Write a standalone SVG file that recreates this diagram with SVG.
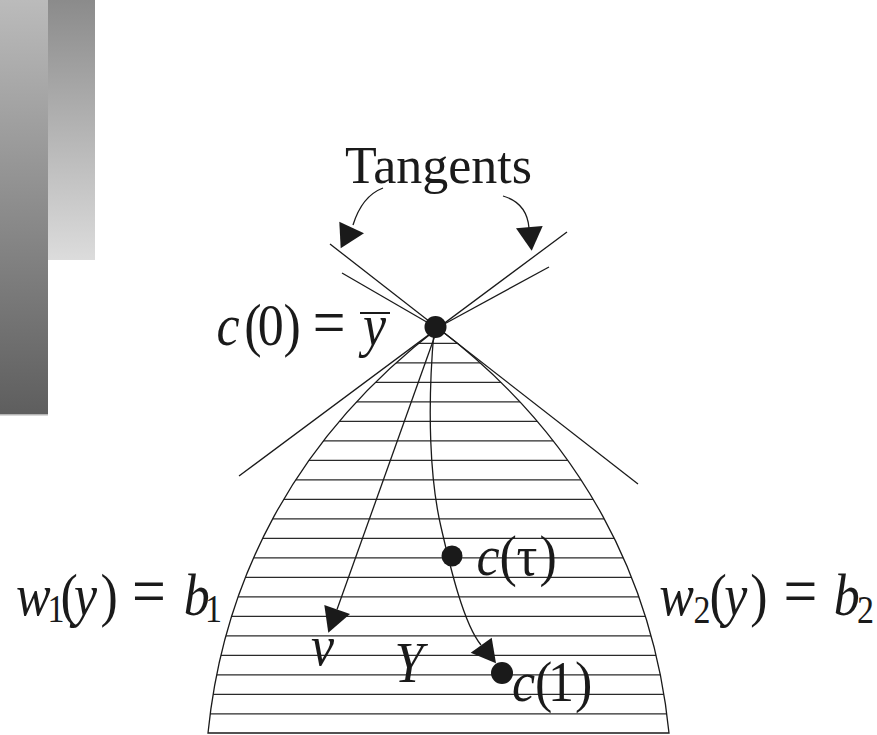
<svg xmlns="http://www.w3.org/2000/svg" width="877" height="735" viewBox="0 0 877 735">
<style>
.t{font-family:"Liberation Serif","Times New Roman",serif;font-size:52px;fill:#1a1a1a}
.i{font-style:italic}
.s{font-size:34px}
.ln{stroke:#1a1a1a;stroke-width:1.3;fill:none}
.h{stroke:#2a2a2a;stroke-width:1.3}
.fill{fill:#1a1a1a}
</style>
<defs>
<linearGradient id="g1" x1="0" y1="0" x2="0" y2="1"><stop offset="0" stop-color="#bbbbbb"/><stop offset="1" stop-color="#5e5e5e"/></linearGradient>
<linearGradient id="g2" x1="0" y1="0" x2="0" y2="1"><stop offset="0" stop-color="#8b8b8b"/><stop offset="1" stop-color="#dcdcdc"/></linearGradient>
<clipPath id="reg"><path d="M438,328 C293,439 223,583 208,733 L669,733 C654,583 584,439 438,328 Z"/></clipPath>
</defs>
<g id="bars">
<rect x="0" y="0" width="48" height="415" fill="url(#g1)"/>
<rect x="0" y="414" width="48" height="1.5" fill="#b4b4b4"/>
<rect x="48" y="0" width="47" height="260" fill="url(#g2)"/>
</g>
<g id="region">
<g clip-path="url(#reg)" class="h">
<line x1="200" x2="680" y1="343.3" y2="343.3"/>
<line x1="200" x2="680" y1="362.8" y2="362.8"/>
<line x1="200" x2="680" y1="382.3" y2="382.3"/>
<line x1="200" x2="680" y1="401.8" y2="401.8"/>
<line x1="200" x2="680" y1="421.3" y2="421.3"/>
<line x1="200" x2="680" y1="440.8" y2="440.8"/>
<line x1="200" x2="680" y1="460.3" y2="460.3"/>
<line x1="200" x2="680" y1="479.8" y2="479.8"/>
<line x1="200" x2="680" y1="499.3" y2="499.3"/>
<line x1="200" x2="680" y1="518.8" y2="518.8"/>
<line x1="200" x2="680" y1="538.3" y2="538.3"/>
<line x1="200" x2="680" y1="557.8" y2="557.8"/>
<line x1="200" x2="680" y1="577.3" y2="577.3"/>
<line x1="200" x2="680" y1="596.8" y2="596.8"/>
<line x1="200" x2="680" y1="616.3" y2="616.3"/>
<line x1="200" x2="680" y1="635.8" y2="635.8"/>
<line x1="200" x2="680" y1="655.3" y2="655.3"/>
<line x1="200" x2="680" y1="674.8" y2="674.8"/>
<line x1="200" x2="680" y1="694.3" y2="694.3"/>
<line x1="200" x2="680" y1="713.8" y2="713.8"/>
</g>
<path class="ln" d="M438,328 C293,439 223,583 208,733 L669,733 C654,583 584,439 438,328"/>
</g>
<g id="tangent-lines" class="ln">
<line x1="330" y1="244" x2="638" y2="484"/>
<line x1="239" y1="476" x2="567" y2="232"/>
<line x1="342" y1="273" x2="437" y2="328"/>
<line x1="549" y1="267" x2="437" y2="328"/>
</g>
<g id="connectors">
<path class="ln" d="M383,188 Q362,196 353,225"/>
<polygon class="fill" points="339.3,221.7 364,233.3 340.7,248.3"/>
<path class="ln" d="M503,196 Q527,203 529,228"/>
<polygon class="fill" points="516,228.3 542.7,226 531.7,250.7"/>
<line class="ln" x1="437" y1="330" x2="337" y2="609.5"/>
<polygon class="fill" points="328.3,632.7 324.3,605 350,614"/>
<path class="ln" d="M434,331 C427,410 430,480 441,527 C447.6,555 462,622 481,645"/>
<polygon class="fill" points="496,663.3 470.7,652.7 491.7,637.7"/>
</g>
<g id="tangents-label">
<text class="t" x="345" y="183" font-size="49" textLength="187" lengthAdjust="spacing">Tangents</text>
</g>
<g id="c0">
<circle class="fill" cx="435.5" cy="327" r="11"/>
<g transform="matrix(1 0 0 1.15 0 -51.75)">
<text class="t" y="345"><tspan class="i" x="216.4">c</tspan><tspan x="244.2">(</tspan><tspan x="257.8">0</tspan><tspan x="283.5">)</tspan><tspan x="312.8" font-size="58">=</tspan><tspan class="i" x="362.9">y</tspan></text>
</g>
<line x1="360" y1="313" x2="390" y2="313" stroke="#1a1a1a" stroke-width="2"/>
</g>
<g id="ctau">
<circle class="fill" cx="452" cy="556" r="10.5"/>
<g transform="matrix(1 0 0 1.1 0 -57.5)">
<text class="t" y="575"><tspan class="i" x="476.5">c</tspan><tspan x="499.5">(</tspan><tspan x="516.5">τ</tspan><tspan x="539.5">)</tspan></text>
</g>
</g>
<g id="c1">
<circle class="fill" cx="502" cy="673" r="11"/>
<g transform="matrix(1 0 0 1.1 0 -70.1)">
<text class="t" y="701"><tspan class="i" x="512">c</tspan><tspan x="535">(</tspan><tspan x="548">1</tspan><tspan x="575">)</tspan></text>
</g>
</g>
<g id="w1" transform="matrix(1 0 0 1.15 0 -92.25)">
<text class="t" y="615"><tspan class="i" x="15.9">w</tspan><tspan class="s" x="47.5" y="621">1</tspan><tspan x="60.5" y="615">(</tspan><tspan class="i" x="74">y</tspan><tspan x="100.5">)</tspan><tspan x="132.1" font-size="60">=</tspan><tspan class="i" x="183.8">b</tspan><tspan class="s" x="205" y="621">1</tspan></text>
</g>
<g id="w2" transform="matrix(1 0 0 1.15 0 -92.25)">
<text class="t" y="615"><tspan class="i" x="659.2">w</tspan><tspan class="s" x="693.5" y="622">2</tspan><tspan x="709.5" y="615">(</tspan><tspan class="i" x="724.2">y</tspan><tspan x="750.2">)</tspan><tspan x="783.6" font-size="60">=</tspan><tspan class="i" x="833.8">b</tspan><tspan class="s" x="857" y="622">2</tspan></text>
</g>
<g id="v-label" transform="matrix(1 0 0 1.1 0 -66.5)"><text class="t i" x="310.9" y="665">v</text></g>
<g id="Y-label" transform="matrix(1 0 0 1.1 0 -68.2)"><text class="t i" x="394.5" y="682">Y</text></g>
</svg>
